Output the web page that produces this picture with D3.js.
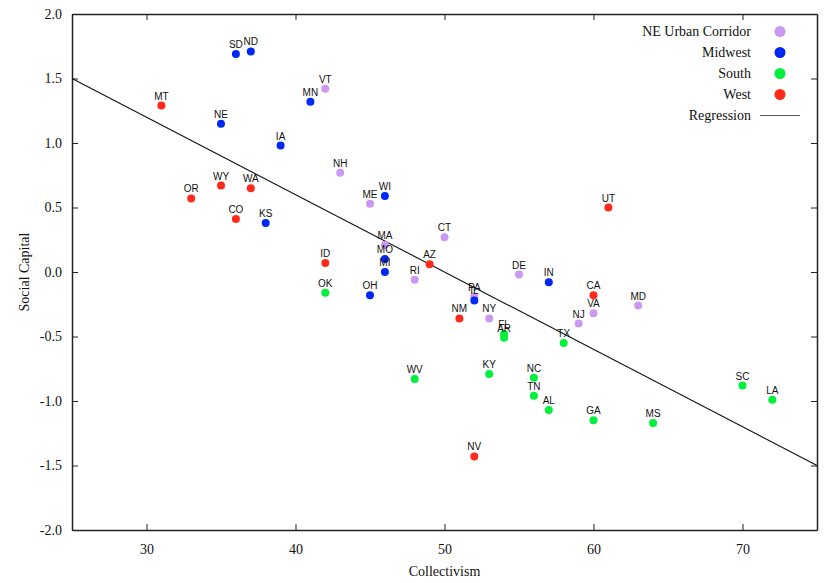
<!DOCTYPE html>
<html><head><meta charset="utf-8">
<script src="https://cdn.jsdelivr.net/npm/d3@7"></script>
<style>body{margin:0;background:#fff}</style>
</head><body>
<svg id="chart" width="836" height="583"></svg>
<script>
const regions = ["NE Urban Corridor","Midwest","South","West"];
const regionColors = ["#cc99f2","#0028f5","#00f03c","#ff2a1a"];
const states = ["VT","NH","ME","MA","CT","RI","DE","PA","NY","NJ","VA","MD",
  "SD","ND","MN","NE","IA","WI","KS","MO","MI","OH","IL","IN",
  "OK","FL","AR","TX","WV","KY","NC","TN","AL","GA","MS","SC","LA",
  "MT","OR","WY","WA","CO","ID","AZ","NM","UT","CA","NV"];
const stateRegion = [0,0,0,0,0,0,0,0,0,0,0,0,
  1,1,1,1,1,1,1,1,1,1,1,1,
  2,2,2,2,2,2,2,2,2,2,2,2,2,
  3,3,3,3,3,3,3,3,3,3,3];
const collectivism = [42,43,45,46,50,48,55,52,53,59,60,63,
  36,37,41,35,39,46,38,46,46,45,52,57,
  42,54,54,58,48,53,56,56,57,60,64,70,72,
  31,33,35,37,36,42,49,51,61,60,52];
const socialCapital = [1.42,0.77,0.53,0.21,0.27,-0.06,-0.02,-0.19,-0.36,-0.40,-0.32,-0.26,
  1.69,1.71,1.32,1.15,0.98,0.59,0.38,0.10,0.00,-0.18,-0.22,-0.08,
  -0.16,-0.48,-0.51,-0.55,-0.83,-0.79,-0.82,-0.96,-1.07,-1.15,-1.17,-0.88,-0.99,
  1.29,0.57,0.67,0.65,0.41,0.07,0.06,-0.36,0.50,-0.18,-1.43];
const regressionX = [25,75];
const regressionY = [1.5,-1.5];
const xTicks = [30,40,50,60,70];
const yTicks = [-2.0,-1.5,-1.0,-0.5,0.0,0.5,1.0,1.5,2.0];

const svg = d3.select("#chart");
const L=72,R=817,T=14,B=530;
const x = d3.scaleLinear().domain([25,75]).range([L,R]);
const y = d3.scaleLinear().domain([-2,2]).range([B,T]);
const serif = "'Liberation Serif','Times New Roman',serif";
const sans = "'Liberation Sans',Arial,sans-serif";
const yFmt = d => d.toFixed(1);

function styleAxis(g){
  g.select(".domain").attr("stroke","#222").attr("stroke-width",1.5);
  g.selectAll(".tick line").attr("stroke","#222").attr("stroke-width",1);
  g.selectAll(".tick text").attr("font-family",serif).attr("font-size",14).attr("fill","#111");
}
svg.append("g").attr("transform",`translate(0,${B})`)
  .call(d3.axisBottom(x).tickValues(xTicks).tickSizeInner(-6).tickSizeOuter(0).tickPadding(14).tickFormat(d3.format("d")))
  .call(styleAxis);
svg.append("g").attr("transform",`translate(0,${T})`)
  .call(d3.axisTop(x).tickValues(xTicks).tickSizeInner(-6).tickSizeOuter(0).tickFormat(""))
  .call(styleAxis);
svg.append("g").attr("transform",`translate(${L},0)`)
  .call(d3.axisLeft(y).tickValues(yTicks).tickSizeInner(-6).tickSizeOuter(0).tickPadding(10).tickFormat(yFmt))
  .call(styleAxis);
svg.append("g").attr("transform",`translate(${R},0)`)
  .call(d3.axisRight(y).tickValues(yTicks).tickSizeInner(-6).tickSizeOuter(0).tickFormat(""))
  .call(styleAxis);

// regression line
svg.append("line")
  .attr("x1",x(regressionX[0])).attr("y1",y(regressionY[0]))
  .attr("x2",x(regressionX[1])).attr("y2",y(regressionY[1]))
  .attr("stroke","#111").attr("stroke-width",1.1);

const data = states.map((s,i)=>({s, r:stateRegion[i], cx:collectivism[i], sc:socialCapital[i]}));
const pts = svg.append("g");
pts.selectAll("circle").data(data).join("circle")
  .attr("cx",d=>x(d.cx)).attr("cy",d=>y(d.sc)).attr("r",4)
  .attr("fill",d=>regionColors[d.r]);
pts.selectAll("text").data(data).join("text")
  .attr("x",d=>x(d.cx)).attr("y",d=>y(d.sc)-6)
  .attr("text-anchor","middle").attr("font-family",sans).attr("font-size",10).attr("fill","#111")
  .text(d=>d.s);

// axis titles
svg.append("text").attr("x",(L+R)/2).attr("y",576).attr("text-anchor","middle")
  .attr("font-family",serif).attr("font-size",14).attr("fill","#111").text("Collectivism");
svg.append("text").attr("transform",`translate(29,${(T+B)/2}) rotate(-90)`).attr("text-anchor","middle")
  .attr("font-family",serif).attr("font-size",14).attr("fill","#111").text("Social Capital");

// legend
const leg = svg.append("g");
regions.forEach((r,i)=>{
  const cy = 31.5 + i*21;
  leg.append("text").attr("x",751).attr("y",cy+4.5).attr("text-anchor","end")
    .attr("font-family",serif).attr("font-size",14).attr("fill","#111").text(r);
  leg.append("circle").attr("cx",780).attr("cy",cy).attr("r",5.5).attr("fill",regionColors[i]);
});
const ry = 31.5 + 4*21;
leg.append("text").attr("x",751).attr("y",ry+4.5).attr("text-anchor","end")
  .attr("font-family",serif).attr("font-size",14).attr("fill","#111").text("Regression");
leg.append("line").attr("x1",760).attr("x2",800).attr("y1",ry).attr("y2",ry)
  .attr("stroke","#555").attr("stroke-width",1.1);
</script>
</body></html>
